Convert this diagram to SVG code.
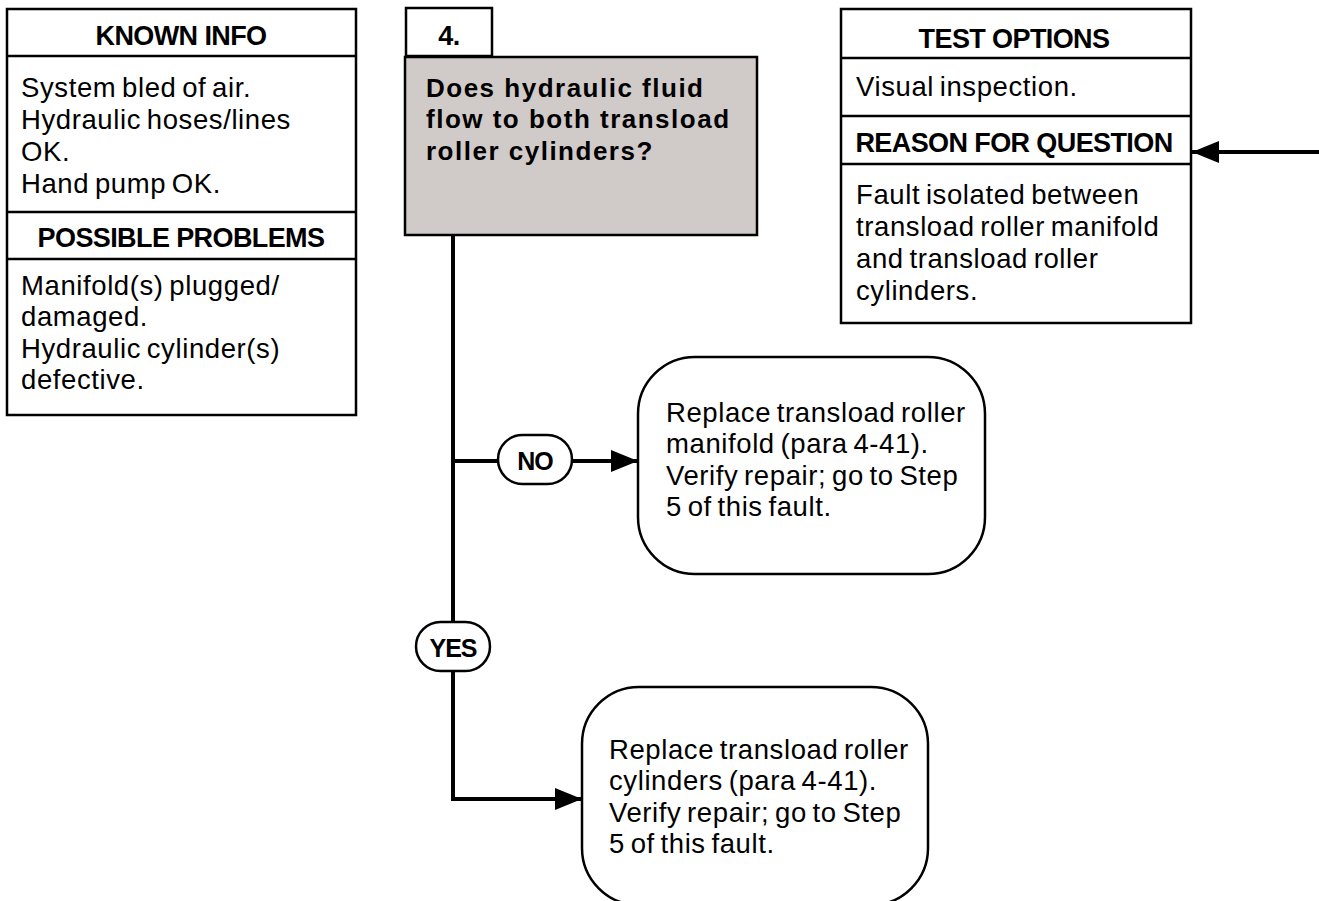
<svg xmlns="http://www.w3.org/2000/svg" width="1319" height="901" viewBox="0 0 1319 901">
<style>
.box{fill:#fff;stroke:#000;stroke-width:2.5}
.q{fill:#d0cac8;stroke:#000;stroke-width:2.5}
.div{stroke:#000;stroke-width:2.5}
.hd{font-family:"Liberation Sans",Arial,sans-serif;font-weight:bold;font-size:27px;text-anchor:middle;letter-spacing:-0.6px}
.tx{font-family:"Liberation Sans",Arial,sans-serif;font-size:27.5px;letter-spacing:0.6px;word-spacing:-2.5px}
.qt{font-family:"Liberation Sans",Arial,sans-serif;font-weight:bold;font-size:26px;letter-spacing:1.5px}
.lb{font-family:"Liberation Sans",Arial,sans-serif;font-weight:bold;font-size:25px;text-anchor:middle;letter-spacing:-1px}
.ln{stroke:#000;stroke-width:4;fill:none}
</style>
<defs>
<marker id="ah" markerWidth="27" markerHeight="22" refX="27" refY="11" orient="auto" markerUnits="userSpaceOnUse">
<path d="M0,0 L27,11 L0,22 Z" fill="#000"/>
</marker>
</defs>
<g id="connectors">
<line class="ln" x1="453" y1="235" x2="453" y2="801"/>
<line class="ln" x1="453" y1="461" x2="498" y2="461"/>
<line class="ln" x1="572" y1="461" x2="638" y2="461" marker-end="url(#ah)"/>
<line class="ln" x1="453" y1="799" x2="582" y2="799" marker-end="url(#ah)"/>
<line class="ln" x1="1319" y1="152" x2="1192" y2="152" stroke-width="5" marker-end="url(#ah)"/>
</g>
<g id="known-info">
<rect class="box" x="7" y="9" width="349" height="406"/>
<line class="div" x1="7" y1="56" x2="356" y2="56"/>
<line class="div" x1="7" y1="212" x2="356" y2="212"/>
<line class="div" x1="7" y1="259" x2="356" y2="259"/>
<text class="hd" x="181" y="45">KNOWN INFO</text>
<text class="tx" x="21" y="97">System bled of air.</text>
<text class="tx" x="21" y="129">Hydraulic hoses/lines</text>
<text class="tx" x="21" y="161">OK.</text>
<text class="tx" x="21" y="193">Hand pump OK.</text>
<text class="hd" x="181" y="247">POSSIBLE PROBLEMS</text>
<text class="tx" x="21" y="295">Manifold(s) plugged/</text>
<text class="tx" x="21" y="326">damaged.</text>
<text class="tx" x="21" y="358">Hydraulic cylinder(s)</text>
<text class="tx" x="21" y="389">defective.</text>
</g>
<g id="step-number">
<rect class="box" x="406" y="8" width="86" height="48"/>
<text class="hd" x="449" y="45">4.</text>
</g>
<g id="question">
<rect class="q" x="405" y="57" width="352" height="178"/>
<text class="qt" x="426" y="97">Does hydraulic fluid</text>
<text class="qt" x="426" y="128">flow to both transload</text>
<text class="qt" x="426" y="160">roller cylinders?</text>
</g>
<g id="test-options">
<rect class="box" x="841" y="9" width="350" height="314"/>
<line class="div" x1="841" y1="58" x2="1191" y2="58"/>
<line class="div" x1="841" y1="116" x2="1191" y2="116"/>
<line class="div" x1="841" y1="164" x2="1191" y2="164"/>
<text class="hd" x="1014" y="48">TEST OPTIONS</text>
<text class="tx" x="856" y="96">Visual inspection.</text>
<text class="hd" x="1014" y="152">REASON FOR QUESTION</text>
<text class="tx" x="856" y="204">Fault isolated between</text>
<text class="tx" x="856" y="236">transload roller manifold</text>
<text class="tx" x="856" y="268">and transload roller</text>
<text class="tx" x="856" y="300">cylinders.</text>
</g>
<g id="no-label">
<rect class="box" x="498" y="435" width="74" height="49" rx="24.5"/>
<text class="lb" x="535" y="470">NO</text>
</g>
<g id="yes-label">
<rect class="box" x="416" y="622" width="74" height="49" rx="24.5"/>
<text class="lb" x="453" y="657">YES</text>
</g>
<g id="no-action">
<rect class="box" x="638" y="357" width="347" height="217" rx="57"/>
<text class="tx" x="666" y="422">Replace transload roller</text>
<text class="tx" x="666" y="453">manifold (para 4-41).</text>
<text class="tx" x="666" y="485">Verify repair; go to Step</text>
<text class="tx" x="666" y="516">5 of this fault.</text>
</g>
<g id="yes-action">
<rect class="box" x="582" y="687" width="346" height="218" rx="57"/>
<text class="tx" x="609" y="759">Replace transload roller</text>
<text class="tx" x="609" y="790">cylinders (para 4-41).</text>
<text class="tx" x="609" y="822">Verify repair; go to Step</text>
<text class="tx" x="609" y="853">5 of this fault.</text>
</g>
</svg>
